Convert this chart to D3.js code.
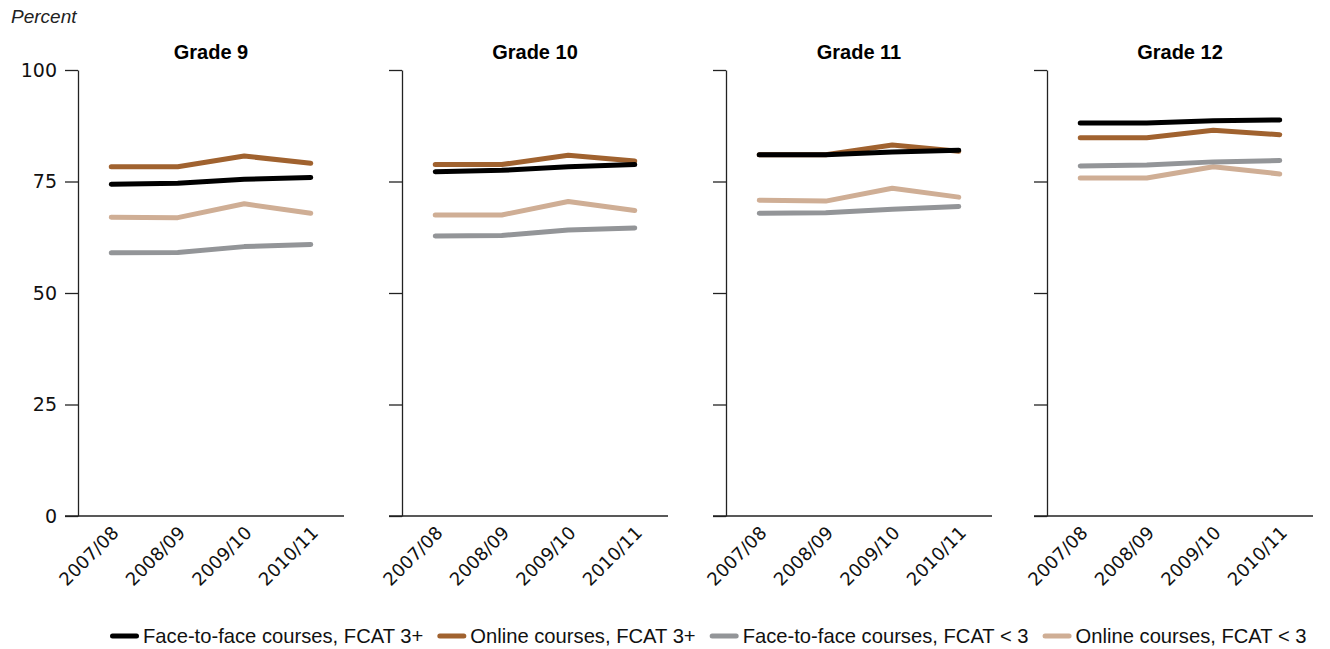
<!DOCTYPE html>
<html>
<head>
<meta charset="utf-8">
<script src="https://cdn.jsdelivr.net/npm/d3@7"></script>
<style>
  body { margin: 0; background: #fff; }
  svg { display: block; font-family: "Liberation Sans", Arial, sans-serif; }
</style>
</head>
<body>
<svg id="chart" width="1330" height="649"></svg>
<script>
const years = ["2007/08", "2008/09", "2009/10", "2010/11"];
const grades = ["Grade 9", "Grade 10", "Grade 11", "Grade 12"];
const seriesNames = ["Face-to-face courses, FCAT 3+", "Online courses, FCAT 3+", "Face-to-face courses, FCAT < 3", "Online courses, FCAT < 3"];
const seriesColors = ["#000000", "#a0622f", "#939598", "#cfae95"];
const yTicks = [0, 25, 50, 75, 100];

// values per grade, per series (order as seriesNames)
const grade9  = [[74.4, 74.6, 75.5, 75.9], [78.3, 78.3, 80.7, 79.1], [59.0, 59.1, 60.4, 60.9], [67.0, 66.9, 70.0, 67.9]];
const grade10 = [[77.2, 77.5, 78.3, 78.8], [78.8, 78.8, 80.9, 79.6], [62.8, 62.9, 64.1, 64.6], [67.5, 67.5, 70.5, 68.5]];
const grade11 = [[81.0, 81.0, 81.6, 82.0], [81.0, 81.0, 83.2, 81.8], [67.9, 68.0, 68.8, 69.4], [70.8, 70.6, 73.5, 71.5]];
const grade12 = [[88.1, 88.1, 88.6, 88.8], [84.8, 84.8, 86.5, 85.5], [78.5, 78.7, 79.4, 79.7], [75.8, 75.8, 78.3, 76.7]];
const gradeData = [grade9, grade10, grade11, grade12];

const svg = d3.select("#chart");
const plotTop = 70, plotBottom = 516, panelW = 266;
const panelX = [78, 402, 726, 1047];
const numFont = '"DejaVu Sans", sans-serif';

const y = d3.scaleLinear().domain([0, 100]).range([plotBottom, plotTop]);
const x = d3.scalePoint().domain(years).range([0, panelW]).padding(0.5);

svg.append("text").attr("x", 11).attr("y", 23)
  .style("font-style", "italic").style("font-size", "19px").attr("fill", "#222").text("Percent");

const drawOrder = [3, 2, 1, 0];

gradeData.forEach((gd, gi) => {
  const g = svg.append("g").attr("transform", `translate(${panelX[gi]},0)`);

  // y axis
  const yAxis = d3.axisLeft(y).tickValues(yTicks).tickSize(13).tickSizeOuter(0).tickPadding(8);
  const ya = g.append("g").call(yAxis);
  ya.select(".domain").attr("stroke", "#222").attr("stroke-width", 1.3);
  ya.selectAll(".tick line").attr("stroke", "#222").attr("stroke-width", 1.3);
  ya.selectAll(".tick text").style("font-size", "19px").style("font-family", numFont).attr("fill", "#111")
    .style("display", gi === 0 ? null : "none");

  // x axis
  const xAxis = d3.axisBottom(x).tickSize(0).tickSizeOuter(0);
  const xa = g.append("g").attr("transform", `translate(0,${plotBottom})`).call(xAxis);
  xa.select(".domain").attr("d", `M-13,0H${panelW}`).attr("stroke", "#222").attr("stroke-width", 1.3);
  xa.selectAll(".tick text")
    .style("font-size", "18px").style("font-family", numFont).attr("fill", "#111")
    .attr("text-anchor", "end")
    .attr("dy", null).attr("y", null)
    .attr("transform", "translate(8,18) rotate(-45)");

  // title
  g.append("text").attr("x", panelW / 2).attr("y", 59).attr("text-anchor", "middle")
    .style("font-weight", "bold").style("font-size", "20px").attr("fill", "#000").text(grades[gi]);

  const line = d3.line().x((d, i) => x(years[i])).y(d => y(d));
  drawOrder.forEach(si => {
    g.append("path").datum(gd[si]).attr("d", line)
      .attr("fill", "none").attr("stroke", seriesColors[si]).attr("stroke-width", 5)
      .attr("stroke-linecap", "round").attr("stroke-linejoin", "round");
  });
});

// legend
const legend = svg.append("g").attr("transform", "translate(0,636)");
let lx = 110;
seriesNames.forEach((name, i) => {
  const it = legend.append("g").attr("transform", `translate(${lx},0)`);
  it.append("line").attr("x1", 2.5).attr("x2", 26.5).attr("y1", 0).attr("y2", 0)
    .attr("stroke", seriesColors[i]).attr("stroke-width", 5).attr("stroke-linecap", "round");
  const t = it.append("text").attr("x", 33).attr("y", 7).style("font-size", "20.2px").attr("fill", "#111").text(name);
  lx += 33 + t.node().getComputedTextLength() + 14;
});
</script>
</body>
</html>
